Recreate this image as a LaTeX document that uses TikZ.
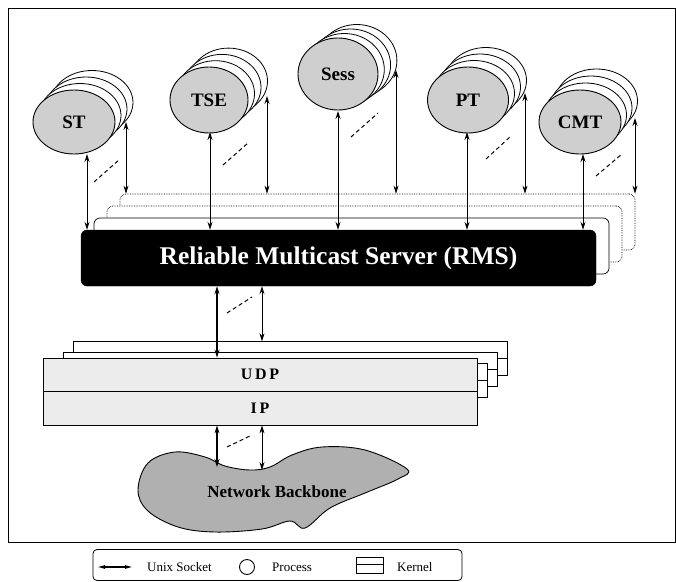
\documentclass[tikz,border=0pt]{standalone}
\usepackage{fontspec}
\setmainfont{Liberation Serif}
\usetikzlibrary{shapes.geometric,arrows.meta,calc}
\tikzset{
  tip/.tip={Stealth[length=8pt,width=5pt]},
  sock/.style={tip-tip, line width=0.8pt},
  sockthick/.style={tip-tip, line width=1.5pt},
  proc/.style={ellipse, draw, line width=0.9pt, fill=gray!38, inner sep=0pt,
    font=\bfseries\fontsize{19}{20}\selectfont},
  procback/.style={ellipse, draw, line width=0.8pt, fill=white, inner sep=0pt},
  dashes/.style={line width=1pt, dash pattern=on 4pt off 3pt},
  rmsback/.style={draw, fill=white, rounded corners=6pt, minimum width=515pt, minimum height=56pt, inner sep=0pt},
  kern/.style={draw, line width=0.8pt, inner sep=0pt, minimum width=434pt, minimum height=33.5pt},
  lbl/.style={font=\fontsize{13}{14}\selectfont, inner sep=0pt},
}
\newcommand{\procstack}[8]{%
  \foreach \k in {3,2,1}{%
    \node[procback, minimum width=#4pt, minimum height=#5pt] (#1\k) at ({#2+\k*#6},{#3+\k*#7}) {};
  }
  \node[proc, minimum width=#4pt, minimum height=#5pt] (#1) at (#2,#3) {#8};
}
\begin{document}
\begin{tikzpicture}[x=1pt,y=-1pt]
\useasboundingbox (0,0) rectangle (676,581);
% outer frame
\node[draw, line width=1pt, minimum width=667pt, minimum height=534pt, inner sep=0pt] (frame) at (341.5,275) {};

% processes
\procstack{ST}{74}{122}{82}{64}{6}{-6.5}{ST}
\procstack{TSE}{209}{100}{78}{66}{6.5}{-6.3}{TSE}
\procstack{Sess}{338}{74}{80}{72}{6.3}{-4.5}{Sess}
\procstack{PT}{468}{100}{81}{66}{6}{-6.5}{PT}
\procstack{CMT}{580}{122}{82}{64}{5.5}{-7}{CMT}

% RMS stack
\node[rmsback, densely dotted, line width=0.7pt] (rms3) at (377.5,222) {};
\node[rmsback, densely dotted, line width=0.7pt] (rms2) at (364.5,234) {};
\node[rmsback, line width=0.7pt] (rms1) at (351.5,246) {};
\node[draw, fill=black, rounded corners=6pt, minimum width=515pt, minimum height=56pt, inner sep=0pt,
  text=white, font=\bfseries\fontsize{25.5}{27}\selectfont] (RMS) at (338.5,258) {Reliable Multicast Server (RMS)};

% process connectors
\foreach \n/\fx/\fy/\bx/\by in {ST/87/154/126/122, TSE/210/132/267/96, Sess/338/111/396/70, PT/467/132/525/93, CMT/583/154/635/118}{
  \coordinate (\n-f) at (\fx,\fy);
  \coordinate (\n-b) at (\bx,\by);
  \draw[sock, line width=1pt] (\n-f) -- (\n-f |- RMS.north);
  \draw[sock] (\n-b) -- (\n-b |- rms3.north);
}
\foreach \n/\ax/\ay/\bx/\by in {ST/94/182/120/159, TSE/223/165/248/143, Sess/351/137/378/113, PT/486/159/511/136, CMT/596/176/622/154}{
  \coordinate (\n-d1) at (\ax,\ay);
  \coordinate (\n-d2) at (\bx,\by);
  \draw[dashes] (\n-d1) -- (\n-d2);
}

% kernel stack
\foreach \k in {3,2,1}{
  \node[kern, fill=white] (k\k) at ({260+\k*10},{391.5-\k*11}) {};
  \draw[line width=0.8pt] (k\k.west) -- (k\k.east);
}
\node[kern, fill=gray!15, minimum height=33pt, font=\bfseries\fontsize{16}{17}\selectfont] (UDP) at (260,374.5) {U\,D\,P};
\node[kern, fill=gray!15, minimum height=34pt, font=\bfseries\fontsize{16}{17}\selectfont] (IP) at (260,408) {I\,P};

% RMS <-> UDP
\coordinate (ru-a) at (217,0);
\coordinate (ru-b) at (262,0);
\draw[sockthick] (ru-a |- RMS.south) -- (ru-a |- UDP.north);
\draw[sock] (ru-b |- RMS.south) -- (ru-b |- k3.north);
\coordinate (ru-d1) at (227,313);
\coordinate (ru-d2) at (252,297);
\draw[dashes] (ru-d1) -- (ru-d2);

% network backbone
\draw[line width=0.9pt, fill=gray!62] plot[smooth cycle, tension=0.6] coordinates {
  (138,490) (148,463) (175,452) (205,457) (225,466) (250,470) (270,467) (292,455)
  (322,447) (365,450) (407,469) (398,479) (365,493) (330,508) (305,528) (290,521)
  (262,529) (215,532) (178,527) (148,511)};
\node[font=\bfseries\fontsize{17}{18}\selectfont, inner sep=0pt] (NB) at (277,492) {Network Backbone};
\coordinate (nb-a) at (217,467);
\coordinate (nb-b) at (262,470);
\draw[sockthick] (nb-a |- IP.south) -- (nb-a);
\draw[sock] (nb-b |- IP.south) -- (nb-b);
\coordinate (nb-d1) at (227,447);
\coordinate (nb-d2) at (252,435);
\draw[dashes] (nb-d1) -- (nb-d2);

% legend
\node[draw, line width=0.8pt, rounded corners=4pt, minimum width=369pt, minimum height=31pt, inner sep=0pt] (legend) at (277.5,565) {};
\coordinate (lg-a) at (97,567);
\coordinate (lg-b) at (133,567);
\draw[{Latex[length=8pt,width=4pt]}-{Latex[length=8pt,width=4pt]}, line width=1.2pt] (lg-a) -- (lg-b);
\node[lbl, anchor=west] (lg-sock) at (147,567) {Unix Socket};
\node[circle, draw, line width=0.9pt, minimum size=15pt, inner sep=0pt] (lg-circ) at (247,567) {};
\node[lbl, anchor=west] (lg-proc) at (272,567) {Process};
\node[draw, line width=0.8pt, minimum width=27pt, minimum height=16pt, inner sep=0pt] (lg-kern) at (369.5,565) {};
\draw[line width=0.6pt] (lg-kern.west) ++(0,-1) -- ($(lg-kern.east)+(0,-1)$);
\node[lbl, anchor=west] (lg-kl) at (397,567) {Kernel};
\end{tikzpicture}
\end{document}
